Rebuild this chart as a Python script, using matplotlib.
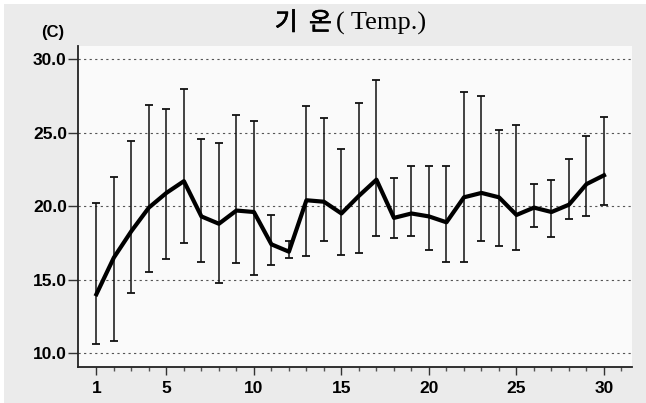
import matplotlib.pyplot as plt
import matplotlib.patheffects as pe
from matplotlib.patches import Rectangle
from matplotlib.ticker import MultipleLocator, FixedLocator, FormatStrFormatter

### Data ###

days = list(range(1, 31))
temp_mean = [14.0, 16.5, 18.3, 19.9, 20.9, 21.7, 19.3, 18.8, 19.7, 19.6,
             17.4, 16.9, 20.4, 20.3, 19.5, 20.7, 21.8, 19.2, 19.5, 19.3,
             18.9, 20.6, 20.9, 20.6, 19.4, 19.9, 19.6, 20.1, 21.5, 22.1]
temp_high = [20.2, 22.0, 24.4, 26.9, 26.6, 28.0, 24.6, 24.3, 26.2, 25.8,
             19.4, 17.6, 26.8, 26.0, 23.9, 27.0, 28.6, 21.9, 22.7, 22.7,
             22.7, 27.8, 27.5, 25.2, 25.5, 21.5, 21.8, 23.2, 24.8, 26.1]
temp_low = [10.6, 10.8, 14.1, 15.5, 16.4, 17.5, 16.2, 14.8, 16.1, 15.3,
            16.0, 16.5, 16.6, 17.6, 16.7, 16.8, 18.0, 17.8, 18.0, 17.0,
            16.2, 16.2, 17.6, 17.3, 17.0, 18.6, 17.9, 19.1, 19.3, 20.1]

title_kr = "기  온"
title_en = "( Temp.)"
unit_text = "(C)"

### Figure ###

W, H = 646, 403
fig = plt.figure(figsize=(W / 100, H / 100), dpi=100, facecolor="white")
fig.patches.append(Rectangle((4 / W, 0), 1, (H - 4) / H, transform=fig.transFigure,
                             facecolor="#ebebeb", edgecolor="none", zorder=-10))

ax = fig.add_axes([78 / W, 1 - 367 / H, (632 - 78) / W, (367 - 46) / H])
ax.set_facecolor("#fafafa")

err_low = [m - lo for m, lo in zip(temp_mean, temp_low)]
err_high = [hi - m for m, hi in zip(temp_mean, temp_high)]
ax.errorbar(days, temp_mean, yerr=[err_low, err_high], fmt="none",
            ecolor="#111111", elinewidth=1.1, capsize=2.8, capthick=1.3, zorder=3)
ax.plot(days, temp_mean, color="black", lw=3.0, solid_joinstyle="round", zorder=4)

ax.set_xlim(-0.05, 31.6)
ax.set_ylim(9.05, 30.9)

ax.yaxis.set_major_locator(MultipleLocator(5))
ax.yaxis.set_major_formatter(FormatStrFormatter("%.1f"))
ax.xaxis.set_major_locator(FixedLocator([1, 5, 10, 15, 20, 25, 30]))
ax.xaxis.set_minor_locator(FixedLocator(list(range(1, 32))))

ax.grid(axis="y", color="#555555", linestyle=(0, (2, 3)), lw=0.8)
ax.set_axisbelow(True)

for s in ["top", "right"]:
    ax.spines[s].set_visible(False)
for s in ["left", "bottom"]:
    ax.spines[s].set_color("#222222")
    ax.spines[s].set_linewidth(1.3)

ax.tick_params(axis="y", direction="out", length=7, width=1, color="#333333", pad=1)
ax.tick_params(axis="x", which="major", direction="out", length=6, width=1, color="#333333", pad=4)
ax.tick_params(axis="x", which="minor", direction="out", length=3, width=1, color="#555555")

for lab in ax.get_xticklabels() + ax.get_yticklabels():
    lab.set_fontfamily("Liberation Sans")
    lab.set_fontweight("bold")
    lab.set_fontsize(12.5)

# title: Korean part in a sans face (slightly thickened), the rest in a serif face
fig.text(332 / W, 1 - 23 / H, title_kr, ha="right", va="center", fontsize=18,
         family="Noto Sans CJK KR",
         path_effects=[pe.withStroke(linewidth=0.5, foreground="black")])
fig.text(336 / W, 1 - 23 / H, title_en, ha="left", va="center", fontsize=19,
         family="Liberation Serif")
fig.text(53 / W, 1 - 33 / H, unit_text, ha="center", va="center", fontsize=12,
         family="Liberation Sans", fontweight="bold")

plt.savefig("out.png", dpi=100, facecolor=fig.get_facecolor())
